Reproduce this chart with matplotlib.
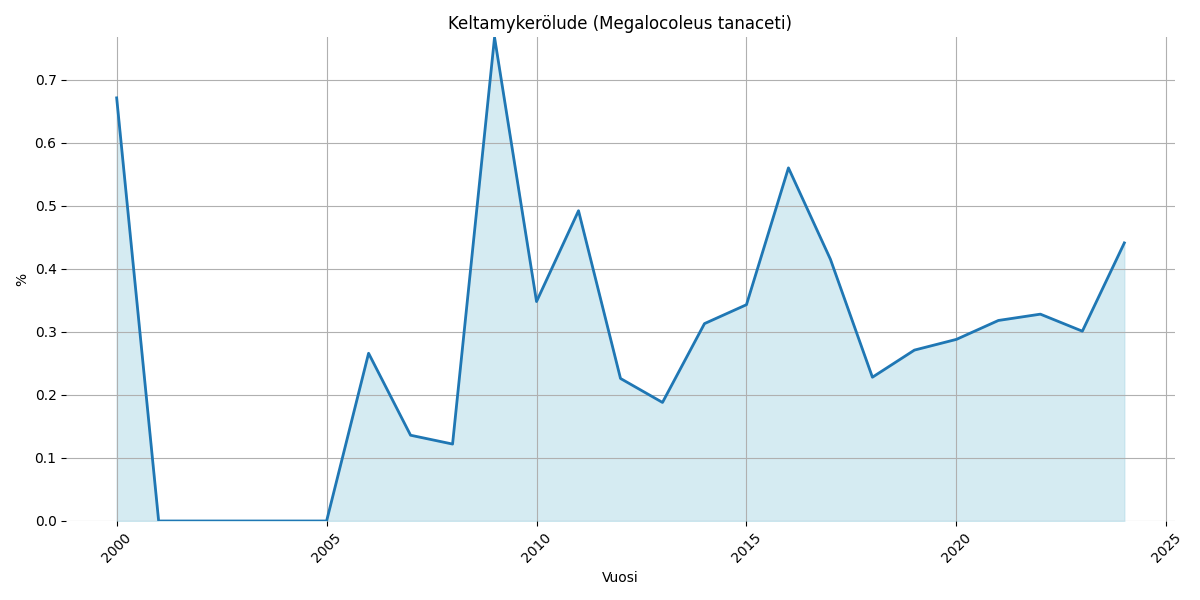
import matplotlib
matplotlib.use('Agg')
import matplotlib.pyplot as plt

years = list(range(2000, 2025))
values = [0.671, 0.0, 0.0, 0.0, 0.0, 0.0, 0.266, 0.136, 0.122, 0.767,
          0.348, 0.492, 0.226, 0.188, 0.313, 0.343, 0.560, 0.415, 0.228,
          0.271, 0.288, 0.318, 0.328, 0.301, 0.441]

fig, ax = plt.subplots(figsize=(12, 6), dpi=100)
ax.fill_between(years, values, color='lightblue', alpha=0.5)
ax.plot(years, values, color='tab:blue', linewidth=2)

ax.set_title('Keltamykerölude (Megalocoleus tanaceti)')
ax.set_xlabel('Vuosi')
ax.set_ylabel('%')
ax.set_ylim(0, max(values))
ax.grid(True)
for s in ax.spines.values():
    s.set_visible(False)
plt.xticks(rotation=45)
plt.tight_layout()
plt.savefig('out.png')
